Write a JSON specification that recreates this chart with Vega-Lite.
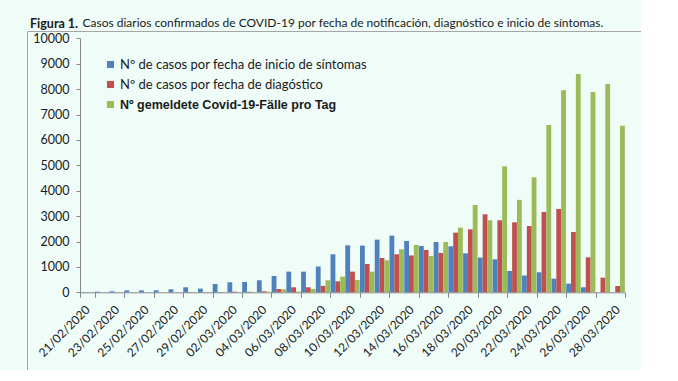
{
  "$schema": "https://vega.github.io/schema/vega-lite/v6.json",
  "width": 614,
  "height": 339,
  "autosize": "none",
  "padding": {"left": 27, "top": 31, "right": 0, "bottom": 0},
  "background": "#effcf8",
  "title": {
    "text": "Figura 1.",
    "subtitle": "\u200b\u2003\u2003\u2003\u2003\u2003\u2002\u2009Casos diarios confirmados de COVID-19 por fecha de notificación, diagnóstico e inicio de síntomas.",
    "anchor": "start",
    "frame": "group",
    "dx": 3,
    "offset": -1,
    "font": "Lato",
    "fontSize": 12.5,
    "fontWeight": "bold",
    "color": "#1a1a1a",
    "subtitleFont": "Lato",
    "subtitleFontSize": 12,
    "subtitleColor": "#1a1a1a",
    "subtitlePadding": -13
  },
  "data": {
    "values": [
      {"fecha": "21/02/2020", "sintomas": 5, "diagnostico": 0, "notificados": 0},
      {"fecha": "22/02/2020", "sintomas": 25, "diagnostico": 0, "notificados": 0},
      {"fecha": "23/02/2020", "sintomas": 40, "diagnostico": 0, "notificados": 0},
      {"fecha": "24/02/2020", "sintomas": 75, "diagnostico": 0, "notificados": 0},
      {"fecha": "25/02/2020", "sintomas": 75, "diagnostico": 0, "notificados": 0},
      {"fecha": "26/02/2020", "sintomas": 80, "diagnostico": 0, "notificados": 0},
      {"fecha": "27/02/2020", "sintomas": 118, "diagnostico": 0, "notificados": 0},
      {"fecha": "28/02/2020", "sintomas": 197, "diagnostico": 5, "notificados": 0},
      {"fecha": "29/02/2020", "sintomas": 145, "diagnostico": 5, "notificados": 0},
      {"fecha": "01/03/2020", "sintomas": 328, "diagnostico": 10, "notificados": 5},
      {"fecha": "02/03/2020", "sintomas": 394, "diagnostico": 25, "notificados": 10},
      {"fecha": "03/03/2020", "sintomas": 407, "diagnostico": 20, "notificados": 15},
      {"fecha": "04/03/2020", "sintomas": 472, "diagnostico": 40, "notificados": 20},
      {"fecha": "05/03/2020", "sintomas": 643, "diagnostico": 131, "notificados": 118},
      {"fecha": "06/03/2020", "sintomas": 813, "diagnostico": 197, "notificados": 30},
      {"fecha": "07/03/2020", "sintomas": 813, "diagnostico": 197, "notificados": 131},
      {"fecha": "08/03/2020", "sintomas": 1015, "diagnostico": 250, "notificados": 472},
      {"fecha": "09/03/2020", "sintomas": 1496, "diagnostico": 433, "notificados": 617},
      {"fecha": "10/03/2020", "sintomas": 1850, "diagnostico": 813, "notificados": 485},
      {"fecha": "11/03/2020", "sintomas": 1837, "diagnostico": 1115, "notificados": 813},
      {"fecha": "12/03/2020", "sintomas": 2073, "diagnostico": 1351, "notificados": 1260},
      {"fecha": "13/03/2020", "sintomas": 2231, "diagnostico": 1496, "notificados": 1693},
      {"fecha": "14/03/2020", "sintomas": 2021, "diagnostico": 1450, "notificados": 1864},
      {"fecha": "15/03/2020", "sintomas": 1824, "diagnostico": 1667, "notificados": 1430},
      {"fecha": "16/03/2020", "sintomas": 1982, "diagnostico": 1549, "notificados": 1982},
      {"fecha": "17/03/2020", "sintomas": 1811, "diagnostico": 2349, "notificados": 2546},
      {"fecha": "18/03/2020", "sintomas": 1535, "diagnostico": 2480, "notificados": 3438},
      {"fecha": "19/03/2020", "sintomas": 1365, "diagnostico": 3071, "notificados": 2835},
      {"fecha": "20/03/2020", "sintomas": 1299, "diagnostico": 2835, "notificados": 4961},
      {"fecha": "21/03/2020", "sintomas": 840, "diagnostico": 2756, "notificados": 3640},
      {"fecha": "22/03/2020", "sintomas": 660, "diagnostico": 2611, "notificados": 4528},
      {"fecha": "23/03/2020", "sintomas": 787, "diagnostico": 3163, "notificados": 6588},
      {"fecha": "24/03/2020", "sintomas": 538, "diagnostico": 3281, "notificados": 7953},
      {"fecha": "25/03/2020", "sintomas": 341, "diagnostico": 2375, "notificados": 8596},
      {"fecha": "26/03/2020", "sintomas": 197, "diagnostico": 1378, "notificados": 7887},
      {"fecha": "27/03/2020", "sintomas": 0, "diagnostico": 577, "notificados": 8202},
      {"fecha": "28/03/2020", "sintomas": 0, "diagnostico": 249, "notificados": 6562}
    ]
  },
  "transform": [
    {"fold": ["sintomas", "diagnostico", "notificados"], "as": ["serie", "casos"]}
  ],
  "mark": {"type": "bar"},
  "encoding": {
    "x": {
      "field": "fecha",
      "type": "nominal",
      "sort": null,
      "scale": {"range": [53, 598], "paddingInner": 0, "paddingOuter": 0},
      "axis": {
        "title": null,
        "values": ["21/02/2020", "23/02/2020", "25/02/2020", "27/02/2020", "29/02/2020", "02/03/2020", "04/03/2020", "06/03/2020", "08/03/2020", "10/03/2020", "12/03/2020", "14/03/2020", "16/03/2020", "18/03/2020", "20/03/2020", "22/03/2020", "24/03/2020", "26/03/2020", "28/03/2020"],
        "tickBand": "extent",
        "offset": -77.7,
        "labelAngle": -45,
        "labelAlign": "right",
        "labelBaseline": "middle",
        "labelPadding": 10,
        "labelOverlap": false,
        "labelFont": "Lato",
        "labelFontSize": 12,
        "labelColor": "#1a1a1a",
        "tickSize": 5,
        "tickColor": "#868686",
        "domainColor": "#868686"
      }
    },
    "xOffset": {
      "field": "serie",
      "type": "nominal",
      "sort": ["sintomas", "diagnostico", "notificados"],
      "scale": {"paddingInner": 0, "paddingOuter": 0.03}
    },
    "y": {
      "field": "casos",
      "type": "quantitative",
      "scale": {"domain": [0, 10000], "range": [261.3, 7.3], "nice": false},
      "axis": {
        "title": null,
        "values": [0, 1000, 2000, 3000, 4000, 5000, 6000, 7000, 8000, 9000, 10000],
        "format": "d",
        "offset": -53,
        "grid": false,
        "labelFont": "Lato",
        "labelFontSize": 12.5,
        "labelColor": "#1a1a1a",
        "labelPadding": 7,
        "tickSize": 4,
        "tickColor": "#868686",
        "domainColor": "#868686"
      }
    },
    "color": {
      "field": "serie",
      "type": "nominal",
      "scale": {
        "domain": ["sintomas", "diagnostico", "notificados"],
        "range": ["#4f81bd", "#c0504d", "#9bbb59"]
      },
      "legend": {
        "orient": "none",
        "legendX": 77,
        "legendY": 27,
        "title": null,
        "padding": 0,
        "symbolType": "square",
        "symbolSize": 50,
        "symbolStrokeWidth": 0,
        "labelOffset": 3,
        "rowPadding": 6,
        "labelFont": "Lato",
        "labelFontSize": 13,
        "labelColor": "#1a1a1a",
        "labelLimit": 400,
        "labelExpr": "datum.value == 'sintomas' ? 'Nº de casos por fecha de inicio de síntomas' : datum.value == 'diagnostico' ? 'Nº de casos por fecha de diagóstico' : 'Nº gemeldete Covid-19-Fälle pro Tag'",
        "encode": {
          "labels": {
            "update": {
              "fontWeight": {"signal": "datum.value == 'notificados' ? 'bold' : 'normal'"},
              "font": {"signal": "datum.value == 'notificados' ? 'Liberation Sans' : 'Lato'"},
              "fontSize": {"signal": "datum.value == 'notificados' ? 12.5 : 13"}
            }
          }
        }
      }
    }
  },
  "config": {
    "view": {"stroke": "#a6a6a6", "strokeWidth": 1}
  }
}
